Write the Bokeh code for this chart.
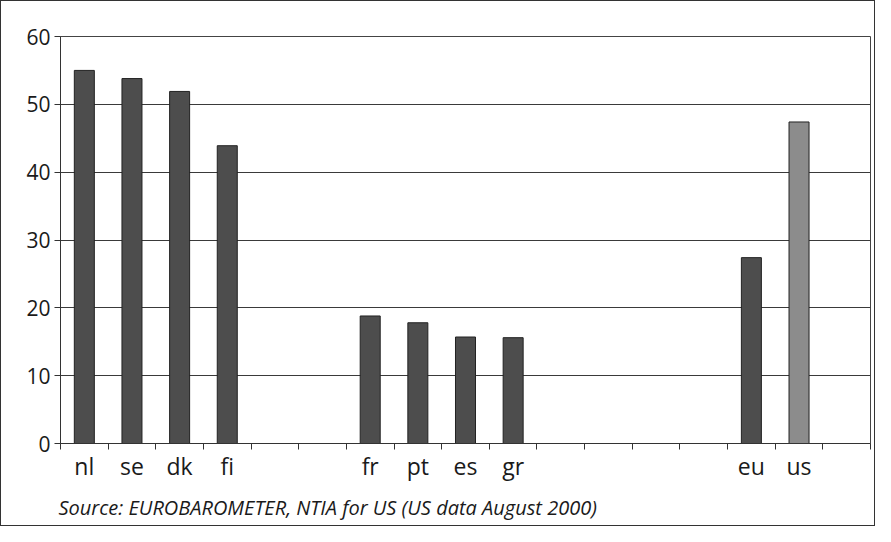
from bokeh.plotting import figure
from bokeh.models import FixedTicker, Range1d, Title, ColumnDataSource
from bokeh.embed import file_html
from bokeh.resources import INLINE

categories = ["nl", "se", "dk", "fi", "", "", "fr", "pt", "es", "gr", "", "", "", "", "eu", "us", ""]
values = [55.0, 53.8, 51.9, 43.9, None, None, 18.8, 17.8, 15.7, 15.6, None, None, None, None, 27.4, 47.4, None]
bar_colors = {"us": "#8c8c8c"}
default_color = "#4d4d4d"
y_ticks = [0, 10, 20, 30, 40, 50, 60]
source_note = "Source: EUROBAROMETER, NTIA for US (US data August 2000)"

xs, tops, cols = [], [], []
for i, (c, v) in enumerate(zip(categories, values)):
    if v is None:
        continue
    xs.append(i + 0.5)
    tops.append(v)
    cols.append(bar_colors.get(c, default_color))
src = ColumnDataSource(dict(x=xs, top=tops, color=cols))

n = len(categories)
FONT = "Open Sans"

p = figure(width=875, height=526, output_backend="svg", toolbar_location=None,
           x_range=Range1d(0, n), y_range=Range1d(0, 60),
           min_border_left=59, min_border_right=6, min_border_top=35, min_border_bottom=83)
p.styles = {"border": "1px solid #333", "box-sizing": "border-box"}

p.vbar(x="x", top="top", width=0.42, bottom=0, source=src,
       fill_color="color", line_color="#222222", line_width=1)

centers = [i + 0.5 for i in range(n)]
boundaries = list(range(n + 1))
p.xaxis.ticker = FixedTicker(ticks=centers, minor_ticks=boundaries)
p.xaxis.major_label_overrides = {i + 0.5: c for i, c in enumerate(categories)}
p.xaxis.major_tick_in = 0
p.xaxis.major_tick_out = 0
p.xaxis.minor_tick_in = 0
p.xaxis.minor_tick_out = 6
p.xaxis.minor_tick_line_color = "#333333"
p.xaxis.axis_line_color = "#333333"
p.xaxis.major_label_text_font = FONT
p.xaxis.major_label_text_font_size = "23px"
p.xaxis.major_label_text_color = "#1a1a1a"
p.xaxis.major_label_standoff = 0

p.yaxis.ticker = FixedTicker(ticks=y_ticks)
p.yaxis.minor_tick_line_color = None
p.yaxis.major_tick_in = 0
p.yaxis.major_tick_out = 6
p.yaxis.major_tick_line_color = "#333333"
p.yaxis.axis_line_color = "#333333"
p.yaxis.major_label_text_font = FONT
p.yaxis.major_label_text_font_size = "21px"
p.yaxis.major_label_text_color = "#1a1a1a"
p.yaxis.major_label_standoff = 4

p.xgrid.grid_line_color = None
p.ygrid.ticker = FixedTicker(ticks=y_ticks)
p.ygrid.grid_line_color = "#3a3a3a"
p.ygrid.grid_line_width = 1

p.outline_line_color = "#444444"
p.outline_line_width = 1

p.add_layout(Title(text=source_note, align="left", text_font=FONT, text_font_size="20px",
                   text_font_style="italic", text_color="#1a1a1a", offset=-2, standoff=14), "below")

open("out.html", "w").write(file_html(p, INLINE))
